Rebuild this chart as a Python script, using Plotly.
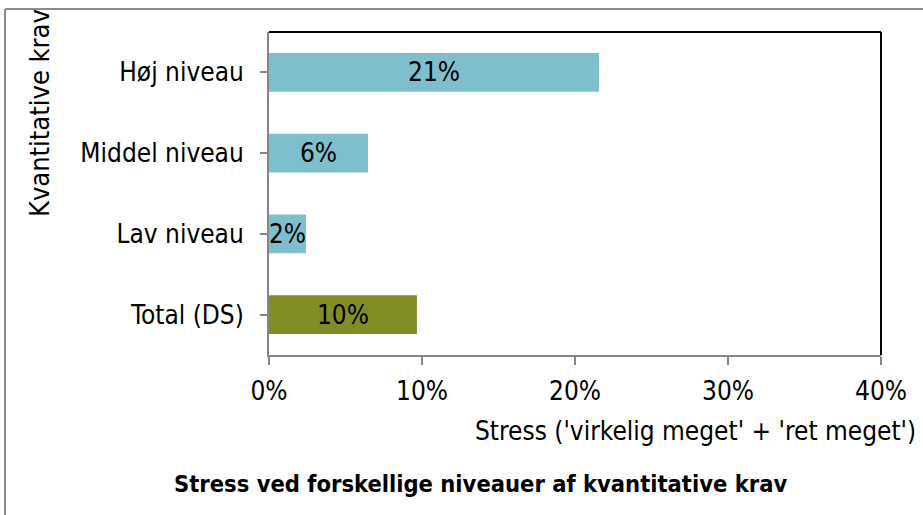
import plotly.graph_objects as go

categories = ["Høj niveau", "Middel niveau", "Lav niveau", "Total (DS)"]
values = [0.2157, 0.0647, 0.0242, 0.0967]
labels = ["21%", "6%", "2%", "10%"]
colors = ["#7fbecd", "#7fbecd", "#7fbecd", "#828d25"]
x_ticks = [0, 0.1, 0.2, 0.3, 0.4]
x_ticklabels = ["0%", "10%", "20%", "30%", "40%"]

FONT = "DejaVu Sans Condensed, DejaVu Sans, sans-serif"

W, H = 923, 515
L, R, T, B = 269, 42, 32, 160

fig = go.Figure(go.Bar(
    y=categories, x=values, orientation="h",
    marker=dict(color=colors, line=dict(width=0)),
    width=0.48,
    text=labels, textposition="inside", insidetextanchor="middle",
    textangle=0, constraintext="none",
    textfont=dict(size=26, color="black", family=FONT),
    cliponaxis=False,
))

pw = W - L - R
ph = H - T - B

def px_x(p):
    return (p - L) / pw

def px_y(p):
    return (H - B - p) / ph

fig.update_layout(
    width=W, height=H,
    margin=dict(l=L, r=R, t=T, b=B, pad=0),
    paper_bgcolor="white", plot_bgcolor="white",
    showlegend=False,
    font=dict(family=FONT, size=26, color="black"),
    xaxis=dict(
        range=[0, 0.4], tickvals=x_ticks, ticktext=x_ticklabels,
        showgrid=False, zeroline=False,
        showline=True, linecolor="#868686", linewidth=2,
        ticks="outside", ticklen=8, tickcolor="#868686", tickwidth=1.5,
        tickfont=dict(size=26, family=FONT), ticklabelstandoff=4,
    ),
    yaxis=dict(
        categoryorder="array", categoryarray=categories[::-1],
        range=[-0.5, 3.5],
        showgrid=False, zeroline=False,
        showline=True, linecolor="#868686", linewidth=2,
        ticks="outside", ticklen=7, tickcolor="#868686", tickwidth=1.5,
        tickfont=dict(size=26, family=FONT), ticklabelstandoff=11,
    ),
    shapes=[
        dict(type="line", xref="paper", yref="paper", x0=0, x1=1, y0=1, y1=1,
             line=dict(color="black", width=2)),
        dict(type="line", xref="paper", yref="paper", x0=1, x1=1, y0=0, y1=1,
             line=dict(color="black", width=2)),
        dict(type="line", xref="paper", yref="paper", x0=px_x(5), x1=px_x(5),
             y0=px_y(9), y1=px_y(516), line=dict(color="#8c8c8c", width=2)),
        dict(type="line", xref="paper", yref="paper", x0=px_x(5), x1=px_x(925),
             y0=px_y(9), y1=px_y(9), line=dict(color="#8c8c8c", width=2)),
    ],
    annotations=[
        dict(text="Kvantitative krav", xref="paper", yref="paper",
             x=px_x(39), y=px_y(113), textangle=-90, showarrow=False,
             font=dict(size=27, family=FONT), xanchor="center", yanchor="middle"),
        dict(text="Stress ('virkelig meget' + 'ret meget')", xref="paper", yref="paper",
             x=px_x(918), y=px_y(431), showarrow=False,
             font=dict(size=26, family=FONT), xanchor="right", yanchor="middle"),
        dict(text="<b>Stress ved forskellige niveauer af kvantitative krav</b>",
             xref="paper", yref="paper", x=px_x(480), y=px_y(484), showarrow=False,
             font=dict(size=23.5, family=FONT), xanchor="center", yanchor="middle"),
    ],
)

fig.write_html("out.html", config={"displayModeBar": False},
               post_script="document.body.style.margin='0';")
